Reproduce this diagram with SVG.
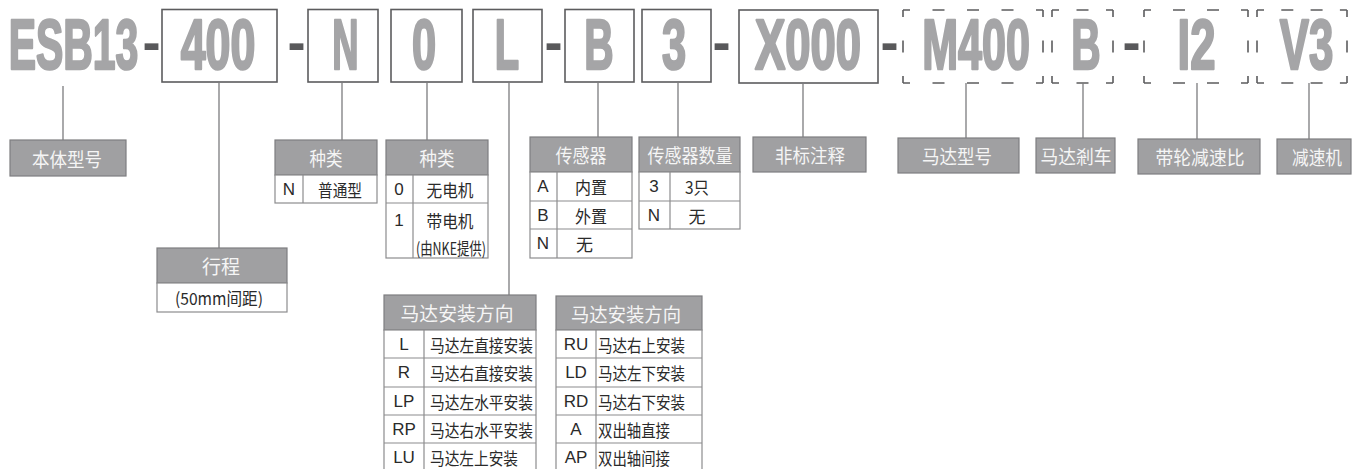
<svg xmlns="http://www.w3.org/2000/svg" width="1352" height="469" viewBox="0 0 1352 469">
<style>
.bg{fill:#fff}
.big{font-family:"Liberation Sans",Arial,sans-serif;font-weight:bold;font-size:70px;fill:#a5a5a7;stroke:#a5a5a7;stroke-width:2.6;stroke-linejoin:round;text-anchor:middle}
.dash{font-family:"Liberation Sans",Arial,sans-serif;font-weight:bold;font-size:56px;fill:#59595b;text-anchor:middle}
.box{fill:#fff;stroke:#5c5c5e;stroke-width:1.6}
.dl{fill:none;stroke:#5c5c5e;stroke-width:1.6}
.conn line{stroke:#7c7c7e;stroke-width:1.3}
.hdr{fill:#a0a0a2;stroke:#7e7e80;stroke-width:1.2}
.cell{fill:#fff;stroke:#8c8c8e;stroke-width:1.2}
.grid{stroke:#8c8c8e;stroke-width:1.2}
.ht{font-family:"Noto Sans CJK SC","Liberation Sans",sans-serif;font-size:19px;fill:#f5f5f5;text-anchor:middle;dominant-baseline:central}
.ct{font-family:"Noto Sans CJK SC","Liberation Sans",sans-serif;font-size:17px;fill:#2a2a2a;dominant-baseline:central}
.lt{font-family:"Liberation Sans Narrow","Liberation Sans",sans-serif;font-size:17px;fill:#2a2a2a;text-anchor:middle;dominant-baseline:central}
.mid{text-anchor:middle}
</style>
<rect class="bg" x="0" y="0" width="1352" height="469"/>

<g id="code-row">
  <g id="seg-esb13"><text class="big" transform="translate(73.5 69) scale(0.585 1)">ESB13</text></g>
  <text class="dash" transform="translate(151.5 61) scale(0.97 1)">-</text>
  <g id="seg-400"><rect class="box" x="162" y="9.5" width="115" height="72.5"/><text class="big" transform="translate(218 69) scale(0.64 1)">400</text></g>
  <text class="dash" transform="translate(296.5 61) scale(0.97 1)">-</text>
  <g id="seg-n"><rect class="box" x="308" y="9.5" width="70" height="72.5"/><text class="big" transform="translate(345.5 69) scale(0.52 1)">N</text></g>
  <g id="seg-0"><rect class="box" x="391" y="9.5" width="71" height="72.5"/><text class="big" transform="translate(424 69) scale(0.62 1)">0</text></g>
  <g id="seg-l"><rect class="box" x="473" y="9.5" width="69" height="72.5"/><text class="big" transform="translate(507 69) scale(0.57 1)">L</text></g>
  <text class="dash" transform="translate(553.5 61) scale(0.97 1)">-</text>
  <g id="seg-b"><rect class="box" x="565" y="9.5" width="69" height="72.5"/><text class="big" transform="translate(599 69) scale(0.58 1)">B</text></g>
  <g id="seg-3"><rect class="box" x="642" y="9.5" width="69" height="72.5"/><text class="big" transform="translate(674 69) scale(0.62 1)">3</text></g>
  <text class="dash" transform="translate(721.5 61) scale(0.97 1)">-</text>
  <g id="seg-x000"><rect class="box" x="739" y="10" width="139" height="73"/><text class="big" transform="translate(808 69) scale(0.65 1)">X000</text></g>
  <text class="dash" transform="translate(889.5 61) scale(0.97 1)">-</text>
  <g id="seg-m400">
    <path class="dl" d="M903 10H1043M903 83H1043" stroke-dasharray="7 22.5 12 22.5 12 22.5 12 22.5 7"/>
    <path class="dl" d="M903 10V83M1043 10V83" stroke-dasharray="7 23.5 12 23.5 7"/>
    <text class="big" transform="translate(976 69) scale(0.615 1)">M400</text>
  </g>
  <g id="seg-b2">
    <path class="dl" d="M1052 10H1113M1052 83H1113" stroke-dasharray="7 17.5 12 17.5 7"/>
    <path class="dl" d="M1052 10V83M1113 10V83" stroke-dasharray="7 23.5 12 23.5 7"/>
    <text class="big" transform="translate(1086 69) scale(0.58 1)">B</text>
  </g>
  <text class="dash" transform="translate(1131.5 61) scale(0.97 1)">-</text>
  <g id="seg-i2">
    <path class="dl" d="M1144 10H1248M1144 83H1248" stroke-dasharray="7 22 12 22 12 22 7"/>
    <path class="dl" d="M1144 10V83M1248 10V83" stroke-dasharray="7 23.5 12 23.5 7"/>
    <text class="big" transform="translate(1196.5 69) scale(0.65 1)">I2</text>
  </g>
  <g id="seg-v3">
    <path class="dl" d="M1257 10H1347M1257 83H1347" stroke-dasharray="7 17.3 12 17.3 12 17.3 7"/>
    <path class="dl" d="M1257 10V83M1347 10V83" stroke-dasharray="7 23.5 12 23.5 7"/>
    <text class="big" transform="translate(1306.5 69) scale(0.625 1)">V3</text>
  </g>
</g>

<g id="connectors" class="conn">
  <line x1="63" y1="86" x2="63" y2="140"/>
  <line x1="219" y1="82" x2="219" y2="248"/>
  <line x1="342" y1="82" x2="342" y2="140"/>
  <line x1="427" y1="82" x2="427" y2="140"/>
  <line x1="509" y1="82" x2="509" y2="295"/>
  <line x1="598" y1="82" x2="598" y2="137"/>
  <line x1="678" y1="82" x2="678" y2="137"/>
  <line x1="803" y1="83" x2="803" y2="137"/>
  <line x1="966" y1="83" x2="966" y2="138"/>
  <line x1="1083" y1="83" x2="1083" y2="138"/>
  <line x1="1197" y1="83" x2="1197" y2="139"/>
  <line x1="1309" y1="83" x2="1309" y2="139"/>
</g>

<g id="label-body">
  <rect class="hdr" x="10" y="140" width="116" height="36"/>
  <text class="ht" x="67" y="158" textLength="70" lengthAdjust="spacingAndGlyphs">本体型号</text>
</g>

<g id="label-stroke">
  <rect class="hdr" x="157" y="248" width="130" height="35"/>
  <text class="ht" x="221" y="265.5" font-size="20" textLength="38" lengthAdjust="spacingAndGlyphs">行程</text>
  <rect class="cell" x="157" y="283" width="130" height="29"/>
  <text class="ct mid" x="219" y="297.5" textLength="88" lengthAdjust="spacingAndGlyphs">(50mm间距)</text>
</g>

<g id="table-type-n">
  <rect class="hdr" x="275" y="140" width="102" height="35"/>
  <text class="ht" x="326" y="157.5" textLength="33" lengthAdjust="spacingAndGlyphs">种类</text>
  <rect class="cell" x="275" y="175" width="102" height="28"/>
  <line class="grid" x1="303" y1="175" x2="303" y2="203"/>
  <text class="lt" x="289" y="189">N</text>
  <text class="ct mid" x="340" y="189" textLength="44" lengthAdjust="spacingAndGlyphs">普通型</text>
</g>

<g id="table-type-motor">
  <rect class="hdr" x="386" y="140" width="102" height="35"/>
  <text class="ht" x="437" y="157.5" textLength="35" lengthAdjust="spacingAndGlyphs">种类</text>
  <rect class="cell" x="386" y="175" width="102" height="83"/>
  <line class="grid" x1="386" y1="203" x2="488" y2="203"/>
  <line class="grid" x1="413" y1="175" x2="413" y2="258"/>
  <text class="lt" x="399" y="189">0</text>
  <text class="ct mid" x="450" y="189" textLength="47" lengthAdjust="spacingAndGlyphs">无电机</text>
  <text class="lt" x="399" y="220">1</text>
  <text class="ct mid" x="450" y="220" textLength="47" lengthAdjust="spacingAndGlyphs">带电机</text>
  <text class="ct mid" x="451" y="247" font-size="16" textLength="70" lengthAdjust="spacingAndGlyphs">(由NKE提供)</text>
</g>

<g id="table-sensor">
  <rect class="hdr" x="530" y="137" width="102" height="35"/>
  <text class="ht" x="581" y="154.5" textLength="51" lengthAdjust="spacingAndGlyphs">传感器</text>
  <rect class="cell" x="530" y="172" width="102" height="86"/>
  <line class="grid" x1="530" y1="201" x2="632" y2="201"/>
  <line class="grid" x1="530" y1="229" x2="632" y2="229"/>
  <line class="grid" x1="557" y1="172" x2="557" y2="258"/>
  <text class="lt" x="543" y="186.5">A</text>
  <text class="lt" x="543" y="215">B</text>
  <text class="lt" x="543" y="243.5">N</text>
  <text class="ct" x="575" y="186.5" textLength="32" lengthAdjust="spacingAndGlyphs">内置</text>
  <text class="ct" x="575" y="215" textLength="32" lengthAdjust="spacingAndGlyphs">外置</text>
  <text class="ct" x="576" y="243.5">无</text>
</g>

<g id="table-sensor-count">
  <rect class="hdr" x="639" y="137" width="101" height="35"/>
  <text class="ht" x="690" y="154.5" textLength="85" lengthAdjust="spacingAndGlyphs">传感器数量</text>
  <rect class="cell" x="639" y="172" width="101" height="57"/>
  <line class="grid" x1="639" y1="201" x2="740" y2="201"/>
  <line class="grid" x1="670" y1="172" x2="670" y2="229"/>
  <text class="lt" x="654" y="186.5">3</text>
  <text class="lt" x="654" y="215">N</text>
  <text class="ct mid" x="697" y="186.5" textLength="24" lengthAdjust="spacingAndGlyphs">3只</text>
  <text class="ct mid" x="697" y="215">无</text>
</g>

<g id="label-nonstd">
  <rect class="hdr" x="753" y="137" width="113" height="35"/>
  <text class="ht" x="810" y="154.5" textLength="70" lengthAdjust="spacingAndGlyphs">非标注释</text>
</g>

<g id="label-motor-model">
  <rect class="hdr" x="898" y="138" width="121" height="35"/>
  <text class="ht" x="957" y="155.5" textLength="70" lengthAdjust="spacingAndGlyphs">马达型号</text>
</g>

<g id="label-motor-brake">
  <rect class="hdr" x="1036" y="138" width="79" height="35"/>
  <text class="ht" x="1076" y="155.5" textLength="71" lengthAdjust="spacingAndGlyphs">马达剎车</text>
</g>

<g id="label-belt-ratio">
  <rect class="hdr" x="1138" y="139" width="122" height="35"/>
  <text class="ht" x="1200" y="156.5" textLength="89" lengthAdjust="spacingAndGlyphs">带轮减速比</text>
</g>

<g id="label-reducer">
  <rect class="hdr" x="1277" y="139" width="74" height="35"/>
  <text class="ht" x="1317" y="156.5" textLength="50" lengthAdjust="spacingAndGlyphs">减速机</text>
</g>

<g id="table-mount-1">
  <rect class="hdr" x="384" y="295" width="152" height="35"/>
  <text class="ht" x="457" y="312.5" font-size="20" textLength="113" lengthAdjust="spacingAndGlyphs">马达安装方向</text>
  <rect class="cell" x="384" y="330" width="152" height="142"/>
  <line class="grid" x1="384" y1="358" x2="536" y2="358"/>
  <line class="grid" x1="384" y1="387" x2="536" y2="387"/>
  <line class="grid" x1="384" y1="415" x2="536" y2="415"/>
  <line class="grid" x1="384" y1="443" x2="536" y2="443"/>
  <line class="grid" x1="424" y1="330" x2="424" y2="472"/>
  <text class="lt" x="404" y="344">L</text>
  <text class="lt" x="404" y="372.5">R</text>
  <text class="lt" x="404" y="401">LP</text>
  <text class="lt" x="404" y="429">RP</text>
  <text class="lt" x="404" y="457">LU</text>
  <text class="ct" x="430" y="344" textLength="103" lengthAdjust="spacingAndGlyphs">马达左直接安装</text>
  <text class="ct" x="430" y="372.5" textLength="103" lengthAdjust="spacingAndGlyphs">马达右直接安装</text>
  <text class="ct" x="430" y="401" textLength="103" lengthAdjust="spacingAndGlyphs">马达左水平安装</text>
  <text class="ct" x="430" y="429" textLength="103" lengthAdjust="spacingAndGlyphs">马达右水平安装</text>
  <text class="ct" x="430" y="457" textLength="88" lengthAdjust="spacingAndGlyphs">马达左上安装</text>
</g>

<g id="table-mount-2">
  <rect class="hdr" x="556" y="296" width="146" height="34"/>
  <text class="ht" x="626" y="313" font-size="20" textLength="110" lengthAdjust="spacingAndGlyphs">马达安装方向</text>
  <rect class="cell" x="556" y="330" width="146" height="142"/>
  <line class="grid" x1="556" y1="358" x2="702" y2="358"/>
  <line class="grid" x1="556" y1="387" x2="702" y2="387"/>
  <line class="grid" x1="556" y1="415" x2="702" y2="415"/>
  <line class="grid" x1="556" y1="443" x2="702" y2="443"/>
  <line class="grid" x1="596" y1="330" x2="596" y2="472"/>
  <text class="lt" x="576" y="344">RU</text>
  <text class="lt" x="576" y="372.5">LD</text>
  <text class="lt" x="576" y="401">RD</text>
  <text class="lt" x="576" y="429">A</text>
  <text class="lt" x="576" y="457">AP</text>
  <text class="ct" x="598" y="344" textLength="87" lengthAdjust="spacingAndGlyphs">马达右上安装</text>
  <text class="ct" x="598" y="372.5" textLength="87" lengthAdjust="spacingAndGlyphs">马达左下安装</text>
  <text class="ct" x="598" y="401" textLength="87" lengthAdjust="spacingAndGlyphs">马达右下安装</text>
  <text class="ct" x="598" y="429" textLength="72" lengthAdjust="spacingAndGlyphs">双出轴直接</text>
  <text class="ct" x="598" y="457" textLength="72" lengthAdjust="spacingAndGlyphs">双出轴间接</text>
</g>
</svg>
